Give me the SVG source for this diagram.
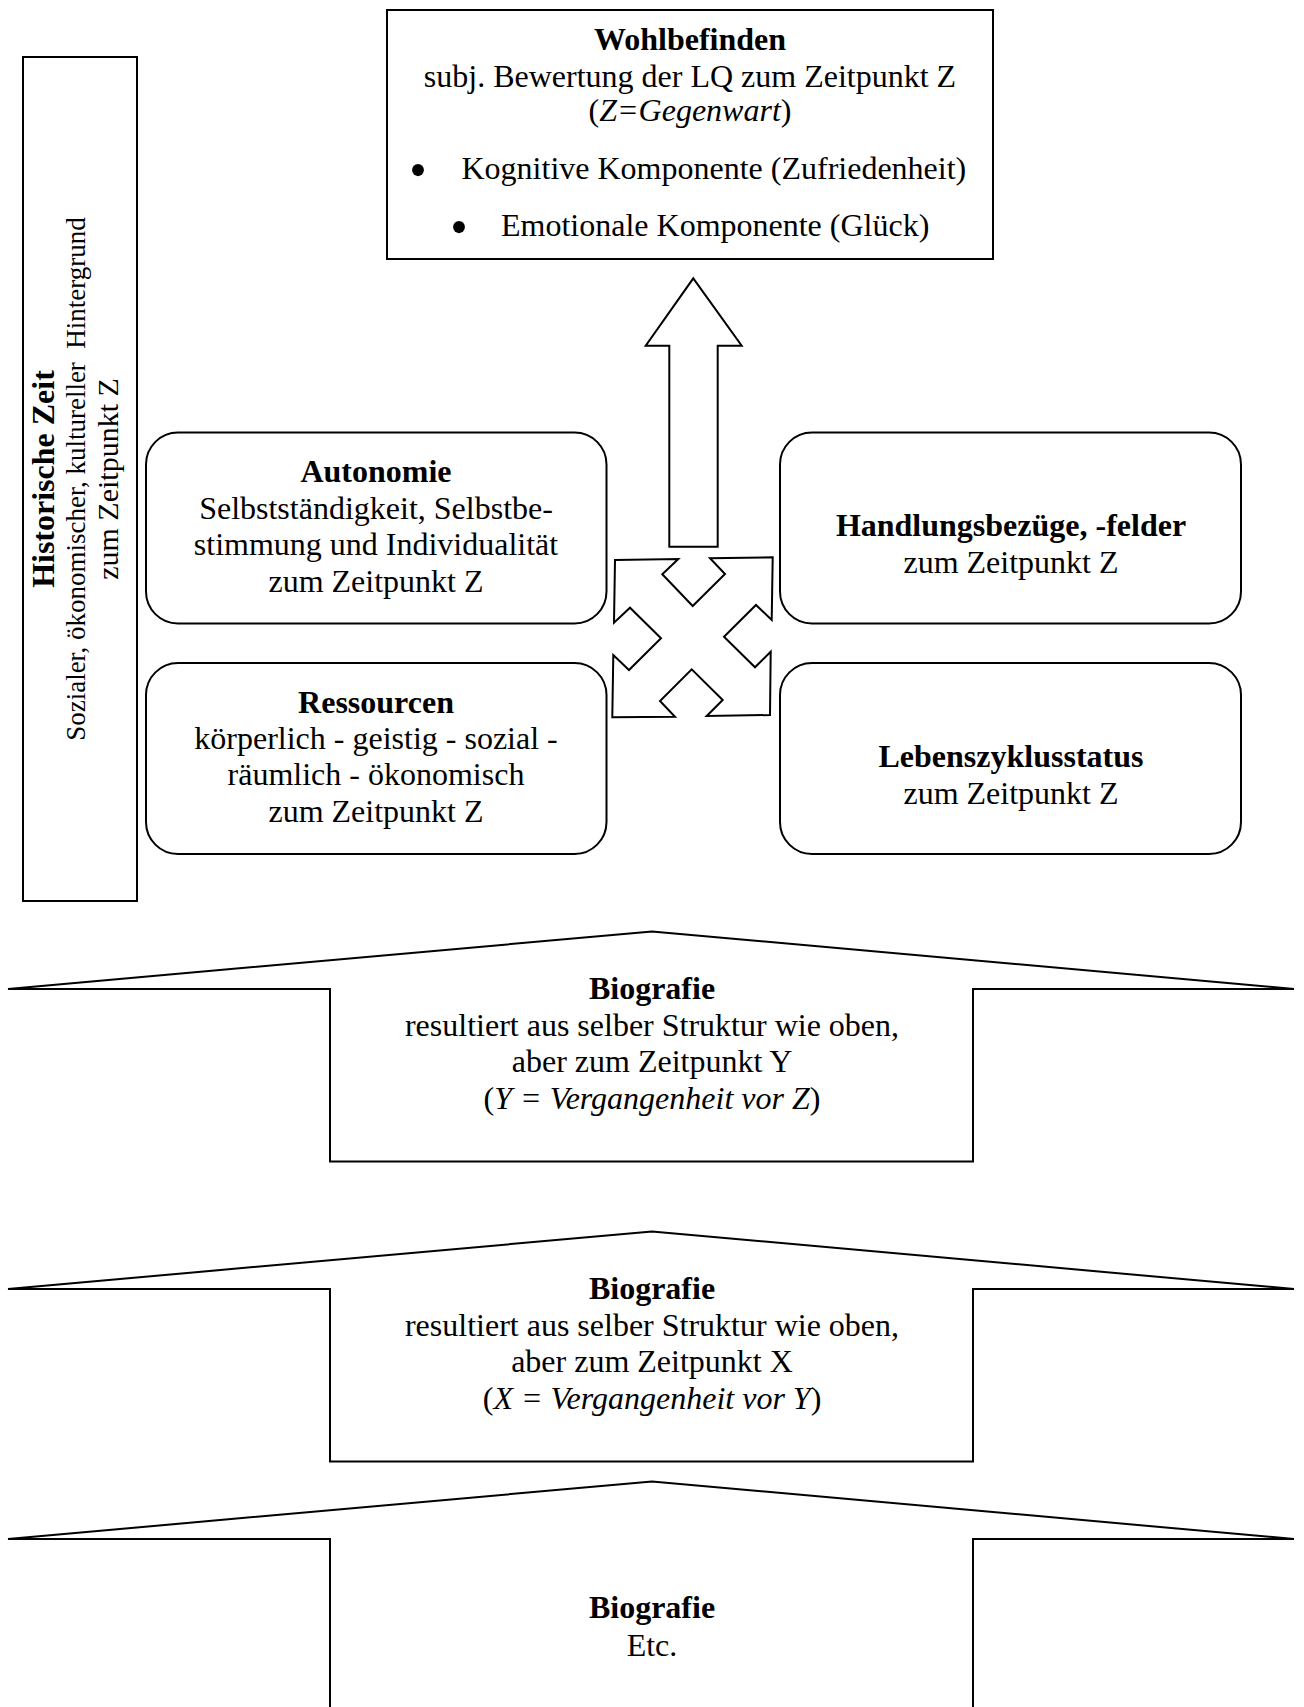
<svg xmlns="http://www.w3.org/2000/svg" width="1304" height="1707" viewBox="0 0 1304 1707">
<style>
  text { font-family: "Liberation Serif", "Times New Roman", serif; font-size: 32px; fill: #000; }
  .b { font-weight: bold; }
  .c { text-anchor: middle; }
  .i { font-style: italic; }
  .bullet { font-size: 50px; text-anchor: middle; }
  .box { fill: #fff; stroke: #000; stroke-width: 2; }
  .shape { fill: #fff; stroke: #000; stroke-width: 2; stroke-linejoin: miter; }
  .rot { font-size: 30px; }
  .rot2 { font-size: 27px; }
</style>
<rect width="1304" height="1707" fill="#fff"/>

<g id="historische-zeit">
  <rect class="box" x="23" y="57" width="114" height="844"/>
  <g transform="translate(54,479) rotate(-90)"><text class="b c">Historische Zeit</text></g>
  <g transform="translate(85,479) rotate(-90)"><text class="c rot2" style="white-space:pre">Sozialer, ökonomischer, kultureller  Hintergrund</text></g>
  <g transform="translate(118,479) rotate(-90)"><text class="c rot">zum Zeitpunkt Z</text></g>
</g>

<g id="wohlbefinden">
  <rect class="box" x="387" y="10" width="606" height="249"/>
  <text class="b c" x="690" y="50">Wohlbefinden</text>
  <text class="c" x="690" y="87">subj. Bewertung der LQ zum Zeitpunkt Z</text>
  <text class="c" x="690" y="121">(<tspan class="i">Z=Gegenwart</tspan>)</text>
  <text class="bullet" x="418" y="187">•</text>
  <text x="461.5" y="179">Kognitive Komponente (Zufriedenheit)</text>
  <text class="bullet" x="459" y="244">•</text>
  <text x="501" y="236">Emotionale Komponente (Glück)</text>
</g>

<g id="autonomie">
  <rect class="box" x="146" y="432.5" width="460.5" height="191" rx="32" ry="32"/>
  <text class="b c" x="376" y="482">Autonomie</text>
  <text class="c" x="376" y="519">Selbstständigkeit, Selbstbe-</text>
  <text class="c" x="376" y="555">stimmung und Individualität</text>
  <text class="c" x="376" y="592">zum Zeitpunkt Z</text>
</g>

<g id="handlungsbezuege">
  <rect class="box" x="780" y="432.5" width="461" height="191" rx="32" ry="32"/>
  <text class="b c" x="1011" y="536">Handlungsbezüge, -felder</text>
  <text class="c" x="1011" y="573">zum Zeitpunkt Z</text>
</g>

<g id="ressourcen">
  <rect class="box" x="146" y="663" width="460.5" height="191" rx="32" ry="32"/>
  <text class="b c" x="376" y="713">Ressourcen</text>
  <text class="c" x="376" y="749">körperlich - geistig - sozial -</text>
  <text class="c" x="376" y="785">räumlich - ökonomisch</text>
  <text class="c" x="376" y="822">zum Zeitpunkt Z</text>
</g>

<g id="lebenszyklusstatus">
  <rect class="box" x="780" y="663" width="461" height="191" rx="32" ry="32"/>
  <text class="b c" x="1011" y="767">Lebenszyklusstatus</text>
  <text class="c" x="1011" y="804">zum Zeitpunkt Z</text>
</g>

<g id="connectors">
  <polygon class="shape" points="693.3,278.3 741.7,345.7 717.7,345.7 717.7,546.7 669.3,546.7 669.3,345.7 645.7,345.7"/>
  <polygon class="shape" points="615,560 678.3,559 662.3,574.3 692.7,606 725,574 710,558.3 772.7,557.3 771.7,620 756,605 724,636.7 755,667.3 770.7,651.7 770,715 706.7,716 722.7,700 691.7,669.3 660,701 675,716.7 612.3,717.3 613.3,655 629,670 661,638.3 630,607.7 614,622.7"/>
</g>

<g id="biografie-y">
  <polygon class="shape" points="8,989 652,931.5 1294,989 973,989 973,1161.5 330,1161.5 330,989"/>
  <text class="b c" x="652" y="999">Biografie</text>
  <text class="c" x="652" y="1036">resultiert aus selber Struktur wie oben,</text>
  <text class="c" x="652" y="1072">aber zum Zeitpunkt Y</text>
  <text class="c" x="652" y="1109">(<tspan class="i">Y = Vergangenheit vor Z</tspan>)</text>
</g>

<g id="biografie-x">
  <polygon class="shape" points="8,1289 652,1231.5 1294,1289 973,1289 973,1461.5 330,1461.5 330,1289"/>
  <text class="b c" x="652" y="1299">Biografie</text>
  <text class="c" x="652" y="1336">resultiert aus selber Struktur wie oben,</text>
  <text class="c" x="652" y="1372">aber zum Zeitpunkt X</text>
  <text class="c" x="652" y="1409">(<tspan class="i">X = Vergangenheit vor Y</tspan>)</text>
</g>

<g id="biografie-etc">
  <polygon class="shape" points="8,1539 652,1481.5 1294,1539 973,1539 973,1720 330,1720 330,1539"/>
  <text class="b c" x="652" y="1618">Biografie</text>
  <text class="c" x="652" y="1656">Etc.</text>
</g>
</svg>
